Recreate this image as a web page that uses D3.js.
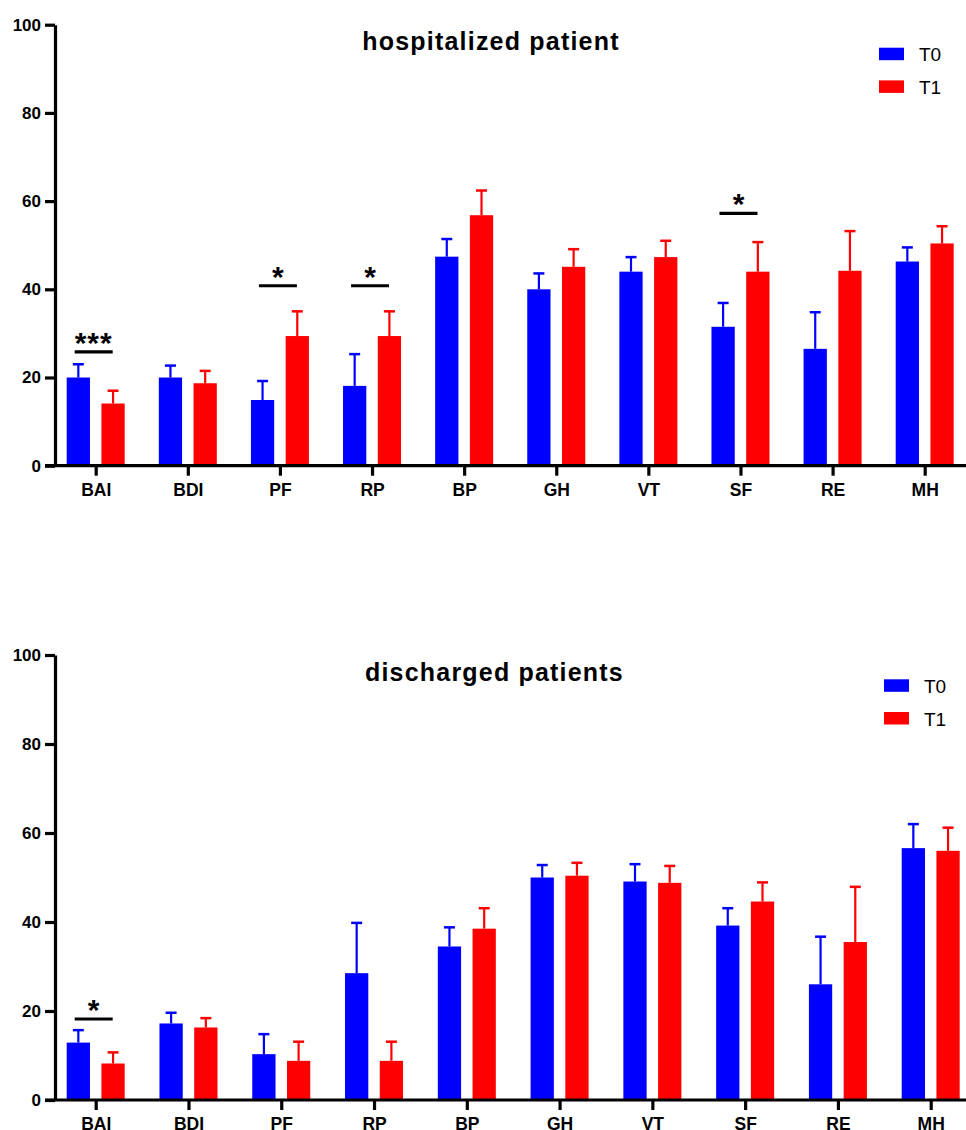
<!DOCTYPE html>
<html>
<head>
<meta charset="utf-8">
<script src="https://cdn.jsdelivr.net/npm/d3@7"></script>
<style>
  html, body { margin: 0; padding: 0; background: #fff; }
  svg { display: block; }
  text { font-family: "Liberation Sans", Arial, sans-serif; }
</style>
</head>
<body>
<svg id="chart" width="966" height="1130"></svg>
<script>
// ---- data ----
const categories = ["BAI","BDI","PF","RP","BP","GH","VT","SF","RE","MH"];
const seriesNames = ["T0","T1"];
const seriesColors = ["#0000FF","#FF0000"];
const yTicks = [0,20,40,60,80,100];

// hospitalized patient
const hospT0 = [20.0, 20.0, 14.9, 18.1, 47.4, 40.0, 44.0, 31.5, 26.5, 46.3];
const hospT0Err = [3.0, 2.7, 4.3, 7.2, 4.0, 3.6, 3.3, 5.4, 8.3, 3.2];
const hospT1 = [14.1, 18.7, 29.4, 29.4, 56.8, 45.1, 47.3, 44.0, 44.2, 50.4];
const hospT1Err = [2.9, 2.8, 5.6, 5.6, 5.6, 4.0, 3.7, 6.7, 9.0, 3.9];
const hospSig = [
  {cat:"BAI", level:25.8, label:"***"},
  {cat:"PF", level:40.8, label:"*"},
  {cat:"RP", level:40.8, label:"*"},
  {cat:"SF", level:57.2, label:"*"}
];

// discharged patients
const discT0 = [12.9, 17.2, 10.3, 28.5, 34.5, 50.0, 49.1, 39.2, 26.0, 56.6];
const discT0Err = [2.8, 2.4, 4.5, 11.3, 4.3, 2.8, 3.9, 3.9, 10.7, 5.4];
const discT1 = [8.2, 16.3, 8.8, 8.8, 38.5, 50.4, 48.8, 44.6, 35.5, 56.0];
const discT1Err = [2.5, 2.1, 4.3, 4.3, 4.6, 2.9, 3.8, 4.3, 12.4, 5.2];
const discSig = [
  {cat:"BAI", level:18.2, label:"*"}
];

// ---- drawing ----
const svg = d3.select("#chart");

function drawPanel(cfg) {
  const g = svg.append("g");
  const x = d3.scalePoint().domain(categories).range([cfg.x0, cfg.x1]);
  const xs = d3.scaleBand().domain(seriesNames).range([-29, 29]).paddingInner(0.33).paddingOuter(0);
  const y = d3.scaleLinear().domain([0, 100]).range([cfg.yBottom, cfg.yTop]);

  const rows = categories.map((c, i) => ({
    cat: c,
    vals: [
      {s: "T0", v: cfg.t0[i], e: cfg.t0e[i], color: seriesColors[0]},
      {s: "T1", v: cfg.t1[i], e: cfg.t1e[i], color: seriesColors[1]}
    ]
  }));

  const groups = g.selectAll("g.grp").data(rows).enter().append("g")
    .attr("transform", d => `translate(${x(d.cat)},0)`);

  // error bars (upper only)
  groups.selectAll("line.err").data(d => d.vals).enter().append("line")
    .attr("x1", d => xs(d.s) + xs.bandwidth()/2)
    .attr("x2", d => xs(d.s) + xs.bandwidth()/2)
    .attr("y1", d => y(d.v))
    .attr("y2", d => y(d.v + d.e))
    .attr("stroke", d => d.color).attr("stroke-width", 2.2);
  groups.selectAll("line.cap").data(d => d.vals).enter().append("line")
    .attr("x1", d => xs(d.s) + xs.bandwidth()/2 - 5.5)
    .attr("x2", d => xs(d.s) + xs.bandwidth()/2 + 5.5)
    .attr("y1", d => y(d.v + d.e))
    .attr("y2", d => y(d.v + d.e))
    .attr("stroke", d => d.color).attr("stroke-width", 2.5);

  // bars
  groups.selectAll("rect").data(d => d.vals).enter().append("rect")
    .attr("x", d => xs(d.s))
    .attr("width", xs.bandwidth())
    .attr("y", d => y(d.v))
    .attr("height", d => y(0) - y(d.v))
    .attr("fill", d => d.color);

  // significance
  cfg.sig.forEach(s => {
    const cx = x(s.cat) - 2;
    g.append("line")
      .attr("x1", cx - 19).attr("x2", cx + 19)
      .attr("y1", y(s.level)).attr("y2", y(s.level))
      .attr("stroke", "#000").attr("stroke-width", 3.2);
    g.append("text")
      .attr("x", cx).attr("y", y(s.level) + 1)
      .attr("text-anchor", "middle")
      .attr("font-size", 30).attr("font-weight", "bold")
      .attr("letter-spacing", s.label.length > 1 ? 1 : 0)
      .text(s.label);
  });

  // y axis
  const yAxis = g.append("g").attr("transform", `translate(55,0)`)
    .call(d3.axisLeft(y).tickValues(yTicks).tickSize(10).tickPadding(4).tickSizeOuter(0));
  yAxis.select(".domain").attr("stroke-width", 3.2).attr("stroke", "#000");
  yAxis.selectAll(".tick line").attr("stroke-width", 3.2);
  yAxis.selectAll(".tick text").attr("font-size", 17).attr("font-weight", "bold")
    .attr("font-family", "Liberation Sans, Arial, sans-serif").attr("fill", "#000");

  // x axis
  const xAxis = g.append("g").attr("transform", `translate(0,${cfg.yBottom})`)
    .call(d3.axisBottom(x).tickSize(10).tickPadding(8).tickSizeOuter(0));
  xAxis.select(".domain").remove();
  xAxis.append("line").attr("x1", 45).attr("x2", 966).attr("y1", 0).attr("y2", 0)
    .attr("stroke", "#000").attr("stroke-width", 3.2);
  xAxis.selectAll(".tick line").attr("stroke-width", 3.2);
  xAxis.selectAll(".tick text").attr("font-size", 17.5).attr("font-weight", "bold")
    .attr("font-family", "Liberation Sans, Arial, sans-serif").attr("fill", "#000");

  // title
  g.append("text")
    .attr("x", cfg.titleX).attr("y", cfg.titleY)
    .attr("text-anchor", "middle")
    .attr("font-size", 25).attr("font-weight", "bold").attr("letter-spacing", 1.2)
    .text(cfg.title);

  // legend
  const leg = g.append("g");
  seriesNames.forEach((n, i) => {
    leg.append("rect")
      .attr("x", cfg.legX).attr("y", cfg.legY + i * 32.7)
      .attr("width", 25).attr("height", 12.5)
      .attr("fill", seriesColors[i]);
    leg.append("text")
      .attr("x", cfg.legX + 40).attr("y", cfg.legY + i * 32.7 + 13.5)
      .attr("font-size", 19)
      .text(n);
  });
}

drawPanel({
  x0: 95.7, x1: 924.7, yBottom: 465.7, yTop: 24.7,
  t0: hospT0, t0e: hospT0Err, t1: hospT1, t1e: hospT1Err, sig: hospSig,
  title: "hospitalized patient", titleX: 491, titleY: 50,
  legX: 879, legY: 47.7
});

drawPanel({
  x0: 95.7, x1: 930.7, yBottom: 1100, yTop: 655,
  t0: discT0, t0e: discT0Err, t1: discT1, t1e: discT1Err, sig: discSig,
  title: "discharged patients", titleX: 494.5, titleY: 681,
  legX: 884, legY: 679.3
});
</script>
</body>
</html>
